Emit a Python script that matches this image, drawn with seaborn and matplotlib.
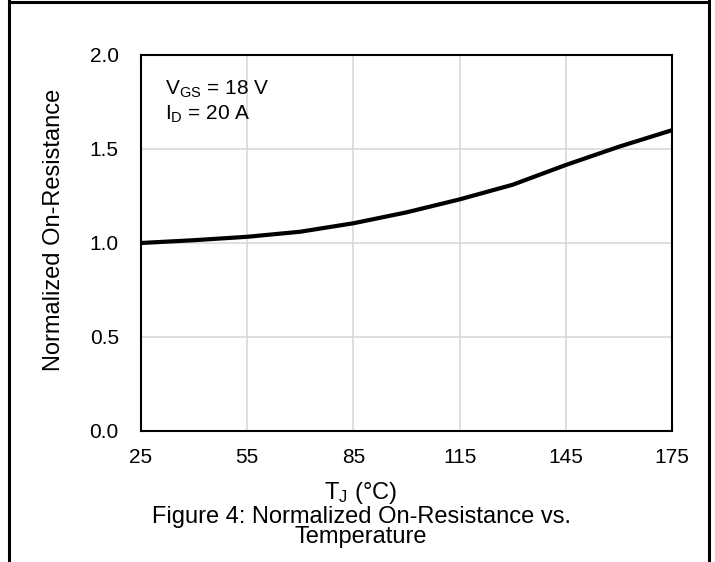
import matplotlib
matplotlib.use("Agg")
import matplotlib.pyplot as plt
import seaborn as sns
import pandas as pd
from matplotlib.lines import Line2D

temps = [25, 40, 55, 70, 85, 100, 115, 130, 145, 160, 175]
rds_norm = [1.00, 1.015, 1.033, 1.06, 1.105, 1.163, 1.232, 1.31, 1.415, 1.512, 1.60]
x_ticks = [25, 55, 85, 115, 145, 175]
y_ticks = [0.0, 0.5, 1.0, 1.5, 2.0]

sns.set_theme(style="whitegrid")
plt.rcParams['font.family'] = ['Liberation Sans', 'DejaVu Sans']
plt.rcParams['mathtext.fontset'] = 'custom'
plt.rcParams['mathtext.rm'] = 'Liberation Sans'
plt.rcParams['mathtext.it'] = 'Liberation Sans'

df = pd.DataFrame({"T": temps, "R": rds_norm})

fig = plt.figure(figsize=(7.15, 5.62), dpi=100)
ax = fig.add_axes([141/715, 1-431/562, (672-141)/715, (431-55)/562])
sns.lineplot(data=df, x="T", y="R", ax=ax, color="black", linewidth=3.0)

ax.set_xlim(25, 175)
ax.set_ylim(0, 2.0)
ax.set_xticks(x_ticks)
ax.set_yticks(y_ticks)
ax.set_yticklabels([f"{v:.1f}" for v in y_ticks])
ax.grid(True, color="#d9d9d9", linewidth=1.2)
ax.tick_params(axis='x', length=0, pad=12, labelsize=15, colors='black')
ax.tick_params(axis='y', length=0, pad=16, labelsize=15, colors='black')
ax.set_xlabel("")
ax.set_ylabel("")
ax.set_facecolor("white")
for s in ax.spines.values():
    s.set_visible(True)
    s.set_color("black")
    s.set_linewidth(1.5)

ax.text(0.045, 1-(95-55)/376, r"V$_{\mathregular{GS}}$ = 18 V", transform=ax.transAxes,
        fontsize=15, color='black', va='baseline', ha='left')
ax.text(0.045, 1-(120-55)/376, r"I$_{\mathregular{D}}$ = 20 A", transform=ax.transAxes,
        fontsize=15, color='black', va='baseline', ha='left')

fig.text(54/715, 1-230/562, "Normalized On-Resistance", rotation=90,
         ha='center', va='center', fontsize=17, color='black')
fig.text(361/715, 1-499/562, r"T$_{\mathregular{J}}$ (°C)", ha='center', va='baseline',
         fontsize=17, color='black')
fig.text(361/715, 1-523/562, "Figure 4: Normalized On-Resistance vs.",
         ha='center', va='baseline', fontsize=17, color='black')
fig.text(361/715, 1-543/562, "Temperature",
         ha='center', va='baseline', fontsize=17, color='black')

# outer border (left, top, right)
lw = 2.2
fig.add_artist(Line2D([8.5/715, 8.5/715], [0, 1], transform=fig.transFigure, color='black', linewidth=lw))
fig.add_artist(Line2D([708.5/715, 708.5/715], [0, 1], transform=fig.transFigure, color='black', linewidth=lw))
fig.add_artist(Line2D([8.5/715, 708.5/715], [1-1.5/562, 1-1.5/562], transform=fig.transFigure, color='black', linewidth=lw))

fig.savefig("out.png", dpi=100, facecolor='white')
